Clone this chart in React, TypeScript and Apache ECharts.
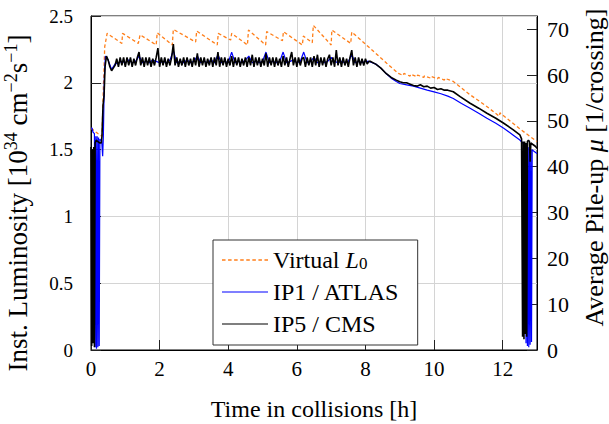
import { useEffect, useRef } from 'react';
import * as echarts from 'echarts';

const FONT = 'Liberation Serif';

// x-axis ticks (h) and axes ranges
const X_MIN = 0;
const X_MAX = 13;
const X_INTERVAL = 2;
const LUMI_MAX = 2.5;
const LUMI_INTERVAL = 0.5;
const MU_MAX = 72.9;
const MU_INTERVAL = 10;

const seriesNames = ['Virtual L0', 'IP1 / ATLAS', 'IP5 / CMS'];

// Virtual L0 : [time h, luminosity 1e34]
const virtualL0: [number, number][] = [
  [0, 1.66], [0.1, 1.64], [0.2, 1.62], [0.32, 1.6], [0.36, 1.95], [0.4, 2.27], [0.47, 2.37],
  [0.9, 2.295], [0.92, 2.37], [1.38, 2.295], [1.43, 2.36], [1.9, 2.283], [1.93, 2.375],
  [2.37, 2.283], [2.4, 2.4], [3.05, 2.305], [3.08, 2.388], [3.68, 2.283], [3.71, 2.37],
  [4.07, 2.32], [4.1, 2.37], [4.56, 2.283], [4.59, 2.395], [5.09, 2.283], [5.12, 2.383],
  [5.58, 2.315], [5.61, 2.383], [6.16, 2.283], [6.19, 2.35], [6.45, 2.3], [6.48, 2.43],
  [7.0, 2.283], [7.02, 2.395], [7.57, 2.295], [7.6, 2.38], [8.13, 2.26], [8.62, 2.146],
  [8.96, 2.07], [9.1, 2.055], [9.12, 2.07], [9.3, 2.05], [9.32, 2.065], [9.5, 2.045],
  [9.52, 2.058], [9.7, 2.04], [9.72, 2.052], [9.9, 2.035], [9.92, 2.047], [10.1, 2.03],
  [10.12, 2.04], [10.3, 2.02], [10.32, 2.033], [10.56, 2.01], [11.05, 1.91], [11.5, 1.83],
  [11.9, 1.75], [11.92, 1.775], [12.5, 1.655], [13.0, 1.56],
];

// IP1 / ATLAS
const ip1Start: [number, number][] = [
  [0, 1.66], [0.03, 1.66], [0.06, 1.63], [0.1, 1.62], [0.12, 0.02], [0.14, 1.6], [0.16, 0.01],
  [0.18, 1.6], [0.2, 0.02], [0.22, 1.59], [0.24, 0.03], [0.26, 1.58], [0.28, 1.57], [0.31, 1.57],
  [0.34, 1.45], [0.36, 1.6], [0.39, 2.05], [0.42, 2.2], [0.45, 2.19],
];
const ip1PlateauT0 = 0.5;
const ip1PlateauDt = 0.1;
const ip1Plateau: number[] = [
  2.17, 2.10, 2.14, 2.15, 2.16, 2.15, 2.17, 2.15, 2.16, 2.20,
  2.15, 2.16, 2.15, 2.17, 2.16, 2.15, 2.16, 2.15, 2.17, 2.24,
  2.15, 2.16, 2.15, 2.17, 2.15, 2.16, 2.20, 2.15, 2.16, 2.15,
  2.17, 2.15, 2.21, 2.15, 2.16, 2.15, 2.23, 2.15, 2.16, 2.15,
  2.17, 2.20, 2.15, 2.16, 2.15, 2.16, 2.23, 2.15, 2.16, 2.15,
  2.16, 2.23, 2.15, 2.16, 2.17, 2.15, 2.16, 2.23, 2.15, 2.16,
  2.19, 2.15, 2.16, 2.15, 2.16, 2.19, 2.16, 2.15, 2.16, 2.15,
  2.16, 2.21, 2.15, 2.16, 2.15, 2.16,
];
const ip1Decay: [number, number][] = [
  [8.1, 2.16], [8.2, 2.15], [8.3, 2.14], [8.45, 2.11], [8.6, 2.07], [8.75, 2.035], [8.9, 2.01],
  [9.0, 1.995], [9.2, 1.985], [9.4, 1.975], [9.6, 1.96], [9.8, 1.945], [10.0, 1.932], [10.2, 1.918],
  [10.4, 1.9], [10.56, 1.883], [10.8, 1.845], [11.05, 1.81], [11.3, 1.772], [11.54, 1.734],
  [11.8, 1.697], [12.03, 1.66], [12.3, 1.61], [12.5, 1.572], [12.6, 1.545], [12.66, 1.53],
  [12.68, 0.05], [12.7, 1.52], [12.72, 0.03], [12.74, 1.52], [12.76, 0.02], [12.78, 1.51],
  [12.8, 0.04], [12.82, 1.5], [12.84, 0.06], [12.86, 1.5], [12.9, 1.49], [12.95, 1.48], [13.0, 1.47],
];

// IP5 / CMS
const ip5Start: [number, number][] = [
  [0, 1.52], [0.02, 0.03], [0.04, 1.5], [0.06, 0.05], [0.08, 1.52], [0.1, 0.02], [0.12, 1.55],
  [0.15, 1.57], [0.2, 1.56], [0.25, 1.55], [0.3, 1.55], [0.32, 1.6], [0.35, 1.83], [0.38, 1.9],
  [0.41, 2.12],
];
const ip5PlateauT0 = 0.45;
const ip5PlateauDt = 0.05;
const ip5Plateau: number[] = [
  // 0.45 ..
  2.20, 2.17, 2.12, 2.09, 2.11, 2.13, 2.18, 2.12, 2.19, 2.13,
  2.19, 2.12, 2.19, 2.13, 2.19, 2.12, 2.18, 2.13, 2.19, 2.23,
  // 1.45 ..
  2.13, 2.19, 2.12, 2.19, 2.13, 2.19, 2.12, 2.18, 2.13, 2.19,
  2.26, 2.12, 2.19, 2.13, 2.19, 2.12, 2.18, 2.13, 2.19, 2.29,
  // 2.45 ..
  2.13, 2.19, 2.12, 2.18, 2.13, 2.19, 2.12, 2.19, 2.13, 2.18,
  2.12, 2.19, 2.13, 2.22, 2.12, 2.19, 2.13, 2.19, 2.12, 2.18,
  // 3.45 ..
  2.13, 2.19, 2.12, 2.19, 2.13, 2.23, 2.12, 2.19, 2.13, 2.19,
  2.12, 2.18, 2.13, 2.20, 2.12, 2.19, 2.13, 2.19, 2.12, 2.18,
  // 4.45 ..
  2.13, 2.19, 2.12, 2.19, 2.13, 2.21, 2.12, 2.19, 2.13, 2.19,
  2.12, 2.18, 2.13, 2.22, 2.12, 2.19, 2.13, 2.19, 2.12, 2.19,
  // 5.45 ..
  2.13, 2.18, 2.12, 2.20, 2.13, 2.19, 2.12, 2.18, 2.23, 2.13,
  2.19, 2.12, 2.19, 2.13, 2.18, 2.19, 2.12, 2.19, 2.13, 2.19,
  // 6.45 ..
  2.12, 2.20, 2.13, 2.21, 2.12, 2.19, 2.13, 2.19, 2.12, 2.18,
  2.21, 2.13, 2.19, 2.12, 2.245, 2.13, 2.19, 2.12, 2.19, 2.13,
  // 7.45 ..
  2.18, 2.12, 2.19, 2.245, 2.13, 2.19, 2.12, 2.19, 2.13, 2.18,
  2.13, 2.18, 2.14, 2.16,
];
const ip5Decay: [number, number][] = [
  [8.15, 2.16], [8.3, 2.14], [8.45, 2.11], [8.6, 2.07], [8.75, 2.04], [8.9, 2.02], [9.0, 2.008],
  [9.1, 2.0], [9.2, 2.0], [9.3, 1.99], [9.4, 1.98], [9.5, 1.975], [9.6, 1.985], [9.7, 1.97],
  [9.8, 1.975], [9.9, 1.96], [10.0, 1.965], [10.1, 1.95], [10.2, 1.955], [10.3, 1.945],
  [10.4, 1.945], [10.56, 1.933], [10.76, 1.896], [11.05, 1.847], [11.3, 1.81], [11.54, 1.772],
  [11.8, 1.735], [12.03, 1.697], [12.3, 1.65], [12.5, 1.61], [12.55, 1.58], [12.58, 0.1],
  [12.6, 1.56], [12.62, 0.08], [12.64, 1.56], [12.66, 0.12], [12.68, 1.55], [12.7, 0.1],
  [12.72, 1.56], [12.75, 1.57], [12.78, 1.56], [12.8, 1.41], [12.82, 1.55], [12.87, 1.54],
  [12.95, 1.525], [13.0, 1.51],
];

function grid(t0: number, dt: number, vals: number[]): [number, number][] {
  return vals.map((v, i) => [Math.round((t0 + i * dt) * 1000) / 1000, v]);
}

const ip1Data = [...ip1Start, ...grid(ip1PlateauT0, ip1PlateauDt, ip1Plateau), ...ip1Decay];
const ip5Data = [...ip5Start, ...grid(ip5PlateauT0, ip5PlateauDt, ip5Plateau), ...ip5Decay];

// legend glyphs: solid and dashed line samples
const SOLID_ICON = 'path://M0 0h46v1.2h-46z';
const DASH_ICON =
  'path://M0 0h3.5v1.3h-3.5zM6 0h3.5v1.3h-3.5zM12 0h3.5v1.3h-3.5zM18 0h3.5v1.3h-3.5zM24 0h3.5v1.3h-3.5zM30 0h3.5v1.3h-3.5zM36 0h3.5v1.3h-3.5zM42 0h3.5v1.3h-3.5z';

const fmtTick = (v: number) => `{t|${Math.round(v * 100) / 100}}`;

export default function App() {
  const ref = useRef<HTMLDivElement>(null);
  useEffect(() => {
    if (!ref.current) return;
    const chart = echarts.init(ref.current, undefined, { renderer: 'svg' });
    const mkLabel = (size: number, margin: number, extra: object = {}) => {
      const t = { fontFamily: FONT, fontSize: size, color: '#000' };
      return { ...t, margin, formatter: fmtTick, rich: { t }, ...extra };
    };
    const nameN = { fontFamily: FONT, fontSize: 27, color: '#000', lineHeight: 32 };
    const rightN = { fontFamily: FONT, fontSize: 26, color: '#000', lineHeight: 28 };
    const sup = { fontFamily: FONT, fontSize: 18, color: '#000', lineHeight: 18, verticalAlign: 'top' };
    const tick = { show: true, inside: true, length: 10, lineStyle: { color: '#222', width: 1 } };
    chart.setOption({
      animation: false,
      textStyle: { fontFamily: FONT, color: '#000' },
      grid: {
        left: 91, right: 72, top: 16, bottom: 74, show: true, borderColor: '#000', borderWidth: 1,
        containLabel: false, outerBoundsMode: 'none',
      },
      legend: {
        left: 213, top: 240, orient: 'vertical',
        padding: [8, 18, 9, 9], itemGap: 8, itemWidth: 46, itemHeight: 23,
        borderColor: '#333', borderWidth: 1, backgroundColor: '#fff',
        data: [
          { name: seriesNames[0], icon: DASH_ICON },
          { name: seriesNames[1], icon: SOLID_ICON },
          { name: seriesNames[2], icon: SOLID_ICON },
        ],
        textStyle: {
          fontFamily: FONT, fontSize: 24, color: '#000', lineHeight: 23,
          rich: {
            n: { fontFamily: FONT, fontSize: 24, color: '#000', lineHeight: 23 },
            i: { fontFamily: FONT, fontSize: 24, color: '#000', lineHeight: 23, fontStyle: 'italic' },
            sub: { fontFamily: FONT, fontSize: 17, color: '#000', lineHeight: 12, verticalAlign: 'bottom' },
          },
        },
        formatter: (name: string) => (name === 'Virtual L0' ? '{n|Virtual }{i|L}{sub|0}' : name),
      },
      xAxis: {
        type: 'value', min: X_MIN, max: X_MAX, interval: X_INTERVAL,
        axisLine: { show: true, lineStyle: { color: '#000' } },
        axisTick: tick,
        axisLabel: mkLabel(21, 8, { showMaxLabel: false }),
        splitLine: { show: true, lineStyle: { color: '#d4d4d4', width: 1 } },
        name: 'Time in collisions [h]', nameLocation: 'middle', nameGap: 47,
        nameTextStyle: { fontFamily: FONT, fontSize: 24, color: '#000' },
      },
      yAxis: [
        {
          type: 'value', position: 'left', min: 0, max: LUMI_MAX, interval: LUMI_INTERVAL,
          axisLine: { show: true, lineStyle: { color: '#000' } },
          axisTick: tick,
          axisLabel: mkLabel(19, 18),
          splitLine: { show: true, lineStyle: { color: '#d4d4d4', width: 1 } },
          name: '{n|Inst. Luminosity [10}{sup|34}{n| cm}{sup|−2}{n|s}{sup|−1}{n|]}',
          nameLocation: 'middle', nameGap: 57,
          nameTextStyle: { ...nameN, padding: [0, 40, 0, 0], rich: { n: nameN, sup } },
        },
        {
          type: 'value', position: 'right', min: 0, max: MU_MAX, interval: MU_INTERVAL,
          axisLine: { show: true, lineStyle: { color: '#000' } },
          axisTick: tick,
          axisLabel: mkLabel(22, 10, { showMaxLabel: false }),
          splitLine: { show: false },
          name: '{n|Average Pile-up }{i|μ}{n| [1/crossing]}',
          nameLocation: 'middle', nameGap: 43,
          nameTextStyle: { ...rightN, padding: [0, 0, 0, 31], rich: { n: rightN, i: { ...rightN, fontStyle: 'italic' } } },
        },
      ],
      series: [
        {
          name: 'Virtual L0', type: 'line', data: virtualL0, yAxisIndex: 0, symbol: 'none', silent: true,
          lineStyle: { color: '#ff7f1a', width: 1.3, type: [3.5, 2.5] }, itemStyle: { color: '#ff7f1a' },
        },
        {
          name: 'IP1 / ATLAS', type: 'line', data: ip1Data, yAxisIndex: 0, symbol: 'none', silent: true,
          lineStyle: { color: '#0000ff', width: 1.2 }, itemStyle: { color: '#0000ff' },
        },
        {
          name: 'IP5 / CMS', type: 'line', data: ip5Data, yAxisIndex: 0, symbol: 'none', silent: true,
          lineStyle: { color: '#000000', width: 1.6 }, itemStyle: { color: '#000000' },
        },
      ],
    });
    return () => chart.dispose();
  }, []);
  return <div ref={ref} style={{ position: 'absolute', left: 0, top: 0, width: 609, height: 424, background: '#fff' }} />;
}
